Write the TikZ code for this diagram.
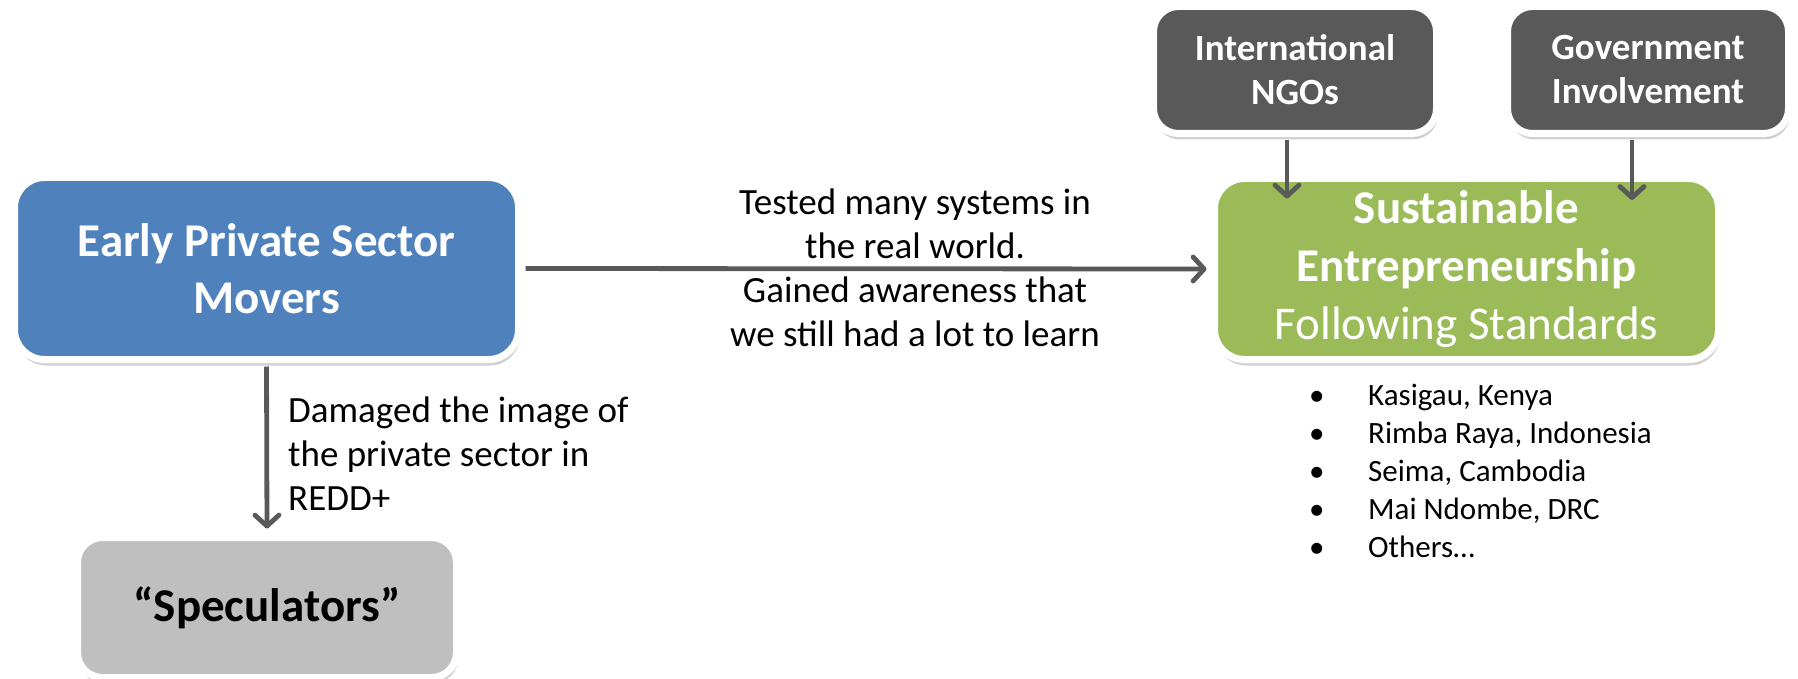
\documentclass[tikz,border=0pt]{standalone}
\usepackage{fontspec}
\setmainfont{Carlito}
\usetikzlibrary{arrows.meta,shadows}
\definecolor{cblue}{HTML}{4F81BD}
\definecolor{cgreen}{HTML}{9BBB59}
\definecolor{cdark}{HTML}{595959}
\definecolor{clight}{HTML}{BFBFBF}
\definecolor{carrow}{HTML}{595959}
\begin{document}
\begin{tikzpicture}[x=1pt,y=-1pt,
  box/.style={draw=white, line width=7pt, rounded corners=30pt, align=center, inner sep=0pt,
    drop shadow={shadow xshift=1.5pt, shadow yshift=-6pt, opacity=0.18, fill=black}},
  bigbold/.style={font=\bfseries\fontsize{47}{57}\selectfont},
  big/.style={font=\fontsize{47}{58}\selectfont},
  smallbold/.style={font=\bfseries\fontsize{37}{44}\selectfont},
  body/.style={font=\fontsize{37}{44}\selectfont, inner sep=0pt},
  list/.style={font=\fontsize{31}{38}\selectfont, inner sep=0pt, align=left},
  arr/.style={draw=carrow, line width=4.8pt, -{Straight Barb[length=11pt,width=24pt,round]}}
]
\useasboundingbox (0,0) rectangle (1798,679);

\node[box, bigbold, fill=cblue, text=white, minimum width=504pt, minimum height=182pt]
  (blue) at (266.5,268.5) {Early Private Sector\\Movers};
\node[box, big, fill=cgreen, text=white, minimum width=504pt, minimum height=181pt]
  (green) at (1466.5,269) {\textbf{Sustainable}\\\textbf{Entrepreneurship}\\Following Standards};
\node[box, smallbold, fill=cdark, text=white, rounded corners=25pt, minimum width=283pt, minimum height=127pt]
  (ngo) at (1295,70) {International\\NGOs};
\node[box, smallbold, fill=cdark, text=white, rounded corners=25pt, minimum width=281pt, minimum height=127pt]
  (gov) at (1648,70) {Government\\Involvement};
\node[box, bigbold, fill=clight, text=black, rounded corners=25pt, minimum width=379pt, minimum height=140pt]
  (spec) at (267,607.5) {“Speculators”};

\draw[arr, shorten <=3.5pt, shorten >=4.5pt] (blue.east) -- (green.west);
\draw[arr, shorten <=3.5pt, shorten >=5.5pt] (blue.south) -- (spec.north);
\draw[arr, shorten <=3.5pt, shorten >=-23.5pt] ([xshift=-8pt]ngo.south) -- ([xshift=-8pt]ngo.south |- green.north);
\draw[arr, shorten <=3.5pt, shorten >=-25pt] ([xshift=-16pt]gov.south) -- ([xshift=-16pt]gov.south |- green.north);

\node[body, align=center, anchor=base] (lblh) at (915,346)
  {Tested many systems in\\the real world.\\Gained awareness that\\we still had a lot to learn};
\node[body, align=left, anchor=base west] (lblv) at (288,510)
  {Damaged the image of\\the private sector in\\REDD+};
\node[list, anchor=base west] (items) at (1309,557)
  {\makebox[59pt][l]{•}Kasigau, Kenya\\
   \makebox[59pt][l]{•}Rimba Raya, Indonesia\\
   \makebox[59pt][l]{•}Seima, Cambodia\\
   \makebox[59pt][l]{•}Mai Ndombe, DRC\\
   \makebox[59pt][l]{•}Others…};
\end{tikzpicture}
\end{document}
